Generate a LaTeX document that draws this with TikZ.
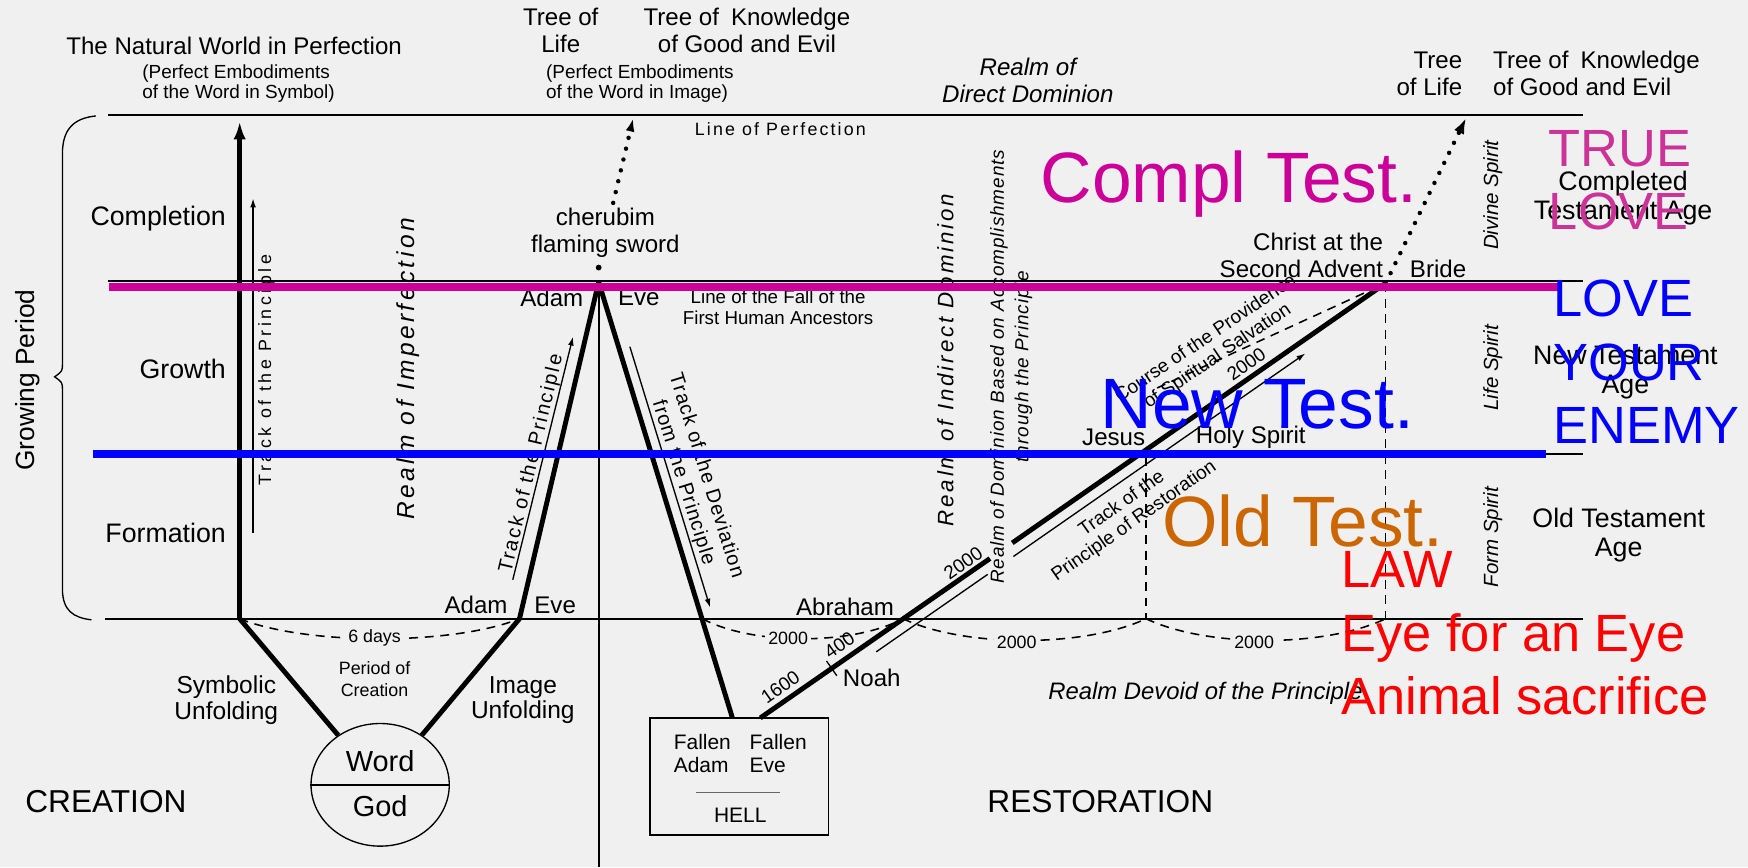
\documentclass[tikz,border=0pt]{standalone}
\usepackage{fontspec}
\setmainfont{Liberation Sans}
\usetikzlibrary{arrows.meta,shapes.geometric,positioning}

\newlength{\du}
\setlength{\du}{0.5pt}
\newcommand{\txtsize}[2]{\fontsize{#1pt}{#2pt}\selectfont}
\newcommand{\spaced}[1]{\addfontfeature{LetterSpace=#1}}

\definecolor{paper}{RGB}{240,240,240}
\definecolor{complcol}{RGB}{204,0,153}
\definecolor{truecol}{RGB}{204,51,153}
\definecolor{oldcol}{RGB}{204,102,0}
\definecolor{newcol}{RGB}{0,0,255}
\definecolor{lawcol}{RGB}{255,0,0}

\tikzset{
  lbl/.style={inner sep=0pt, font=\txtsize{10.8}{12}},
  big/.style={inner sep=0pt, font=\txtsize{12}{13}},
  smalltxt/.style={inner sep=0pt, font=\txtsize{8.5}{9}},
  realm/.style={inner sep=0pt, font=\txtsize{10}{11}\itshape\spaced{13}},
  spirit/.style={inner sep=0pt, rotate=90, font=\txtsize{9.2}{10}\itshape},
  heavy/.style={line width=2.2pt},
  rule/.style={line width=1.1pt},
  fine/.style={line width=0.6pt},
  dotline/.style={line width=2pt, line cap=round, dash pattern=on 0pt off 5pt},
  dashcurve/.style={line width=0.7pt, dash pattern=on 4pt off 3pt},
  yearlbl/.style={smalltxt, font=\txtsize{8}{9}, fill=paper, inner sep=1.5pt},
  note/.style={inner sep=0pt, font=\txtsize{32}{32}},
  remark/.style={inner sep=0pt, font=\txtsize{23.5}{28.5}, align=left},
}

\begin{document}
\begin{tikzpicture}[x=\du,y=-\du]
\fill[paper] (0,0) rectangle (1568,778);
\useasboundingbox (0,0) rectangle (1568,778);

% levels
\coordinate (perfL) at (97,103);
\coordinate (perfR) at (1420,103);
\coordinate (fallL) at (97,252);
\coordinate (fallR) at (1420,252);
\coordinate (midL) at (97,407);
\coordinate (midR) at (1420,407);
\coordinate (baseL) at (94,555);
\coordinate (baseR) at (1420,555);
\draw[rule] (perfL) -- (perfR);
\draw[rule] (fallL) -- (fallR);
\draw[rule] (midL) -- (midR);
\draw[rule] (baseL) -- (baseR);

% growing period brace
\draw[fine] (86,104) .. controls (66,106) and (56,116) .. (56,138) -- (56,326)
  .. controls (56,333) .. (49,338) .. controls (56,343) .. (56,350) -- (56,528)
  .. controls (56,548) and (66,554) .. (82,556);

% creation
\coordinate (symb) at (215,555);
\coordinate (adameve) at (466,555);
\coordinate (apex) at (537,253);
\coordinate (natTop) at (215,109);
\coordinate (trkA) at (227,478);
\coordinate (trkB) at (227,178);
\node[ellipse, draw, fine, minimum width=124\du, minimum height=110\du, inner sep=0pt] (god) at (341,704) {};
\draw[fine] (god.west) -- (god.east);
\draw[heavy] (symb) -- (god);
\draw[heavy] (adameve) -- (god);
\draw[heavy, -{Latex[length=8pt,width=5.5pt]}] (symb) -- (natTop);
\draw[fine, -{Latex[length=4pt,width=2.6pt]}] (trkA) -- (trkB);

% fall
\coordinate (fallpt) at (657,644);
\coordinate (axisEnd) at (537,778);
\coordinate (swordFoot) at (550,182);
\coordinate (swordTip) at (568,106);
\coordinate (upA) at (460,520);
\coordinate (upB) at (514,302);
\coordinate (devA) at (565,311);
\coordinate (devB) at (637,545);
\draw[heavy] (adameve) -- (apex);
\draw[heavy] (apex) -- (fallpt);
\draw[line width=0.9pt] (apex) -- (axisEnd);
\node[circle, fill, inner sep=0pt, minimum size=2.6pt] (swordDot) at (537,240) {};
\draw[dotline, -{Latex[length=6pt,width=4pt]}] (swordFoot) -- (swordTip);
\draw[fine, -{Latex[length=4pt,width=2.6pt]}] (upA) -- (upB);
\draw[fine, -{Latex[length=4pt,width=2.6pt]}] (devA) -- (devB);
\node[draw, fine, minimum width=160\du, minimum height=105\du, inner sep=0pt] (hell) at (663,696.5) {};
\coordinate (sepL) at (624,711);
\coordinate (sepR) at (700,711);
\draw[line width=0.5pt, black!60] (sepL) -- (sepR);

% restoration
\coordinate (restpt) at (682,644);
\coordinate (gapA) at (888,501);
\coordinate (gapB) at (908,487);
\coordinate (christ) at (1243,254);
\coordinate (noahpt) at (746,599.5);
\coordinate (trA) at (786,584.7);
\coordinate (trB) at (886,515.2);
\coordinate (trC) at (909,499.2);
\coordinate (trD) at (1171,317);
\coordinate (provA) at (1038,348);
\coordinate (jesusTop) at (1028,410);
\coordinate (devpt) at (630,555);
\coordinate (abrpt) at (810,555);
\coordinate (jesusFoot) at (1028,555);
\coordinate (christFoot) at (1243,555);
\coordinate (lifeTip) at (1315,106);
\draw[heavy] (restpt) -- (gapA);
\draw[heavy] (gapB) -- (christ);
\draw[fine] (noahpt) ++(-4.6,-6.6) -- ++(9.2,13.2);
\draw[fine] (trA) -- (trB);
\draw[fine, -{Latex[length=4pt,width=2.6pt]}] (trC) -- (trD);
\draw[dashcurve] (provA) -- (christ);
\draw[dashcurve] (jesusTop) -- (jesusFoot);
\draw[dashcurve] (christ) -- (christFoot);
\draw[dotline, -{Latex[length=7pt,width=5pt]}] (christ) -- (lifeTip);

% periods
\draw[dashcurve] (symb) .. controls +(60,24) and +(-60,24) .. (adameve);
\draw[dashcurve] (devpt) .. controls +(45,24) and +(-45,24) .. (abrpt);
\draw[dashcurve] (abrpt) .. controls +(55,26) and +(-55,26) .. (jesusFoot);
\draw[dashcurve] (jesusFoot) .. controls +(55,26) and +(-55,26) .. (christFoot);
\node[yearlbl] (sixdays) at (336,572) {6 days};
\node[yearlbl] (yrA) at (707,573) {2000};
\node[yearlbl] (yrB) at (912,576) {2000};
\node[yearlbl] (yrC) at (1125,576) {2000};

% top texts
\node[lbl] (natural) at (210,41) {The Natural World in Perfection};
\node[smalltxt, align=left] (natEmb) at (214,75) {(Perfect Embodiments\\of the Word in Symbol)};
\node[lbl, align=center] (lifeTree) at (503,27) {Tree of\\Life};
\node[lbl, align=center] (knowTree) at (670,27) {Tree of\enspace Knowledge\\of Good and Evil};
\node[smalltxt, align=left] (imgEmb) at (574,75) {(Perfect Embodiments\\of the Word in Image)};
\node[smalltxt, font=\txtsize{8}{9}\spaced{12}] (perfLine) at (700,116) {Line of Perfection};
\node[lbl, font=\txtsize{10.8}{12}\itshape, align=center] (direct) at (922,72) {Realm of\\Direct Dominion};
\node[lbl, align=right, anchor=east] (lifeTree2) at (1312,66) {Tree\\of Life};
\node[lbl, align=left, anchor=west] (knowTree2) at (1339,66) {Tree of\enspace Knowledge\\of Good and Evil};

% left texts
\node[inner sep=0pt, rotate=90, font=\txtsize{11.8}{13}] (growing) at (25,341) {Growing Period};
\node[big, anchor=east] (completion) at (203,196) {Completion};
\node[big, anchor=east] (growth) at (203,331) {Growth};
\node[big, anchor=east] (formation) at (203,478) {Formation};
\node[inner sep=0pt, rotate=90, font=\txtsize{8}{9}\spaced{20}] (trackNat) at (239,332) {Track of the Principle};
\node[realm, rotate=90, font=\txtsize{11}{12}\itshape\spaced{14}] (imperf) at (366,331) {Realm of Imperfection};
\node[lbl, align=center] (cherub) at (543,209) {cherubim\\flaming sword};
\node[lbl] (adamTop) at (495,267) {Adam};
\node[lbl] (eveTop) at (573,267) {Eve};
\node[inner sep=0pt, align=center, font=\txtsize{8.4}{9.5}] (fallLine) at (698,276) {Line of the Fall of the\\First Human Ancestors};
\node[inner sep=0pt, rotate=76.7, font=\txtsize{9}{10}\spaced{10}] (trackUp) at (477,416) {Track of the Principle};
\node[inner sep=0pt, rotate=-72.7, align=center, font=\txtsize{9}{10.75}\spaced{5}] (trackDev) at (623,430) {Track of the Deviation\\from the Principle};

% bottom texts
\node[lbl] (adamLow) at (427,543) {Adam};
\node[lbl] (eveLow) at (498,543) {Eve};
\node[inner sep=0pt, align=center, font=\txtsize{8}{10}] (creationPeriod) at (336,609) {Period of\\Creation};
\node[lbl, align=center, font=\txtsize{11}{11.5}] (symbolic) at (203,628) {Symbolic\\Unfolding};
\node[lbl, align=center, font=\txtsize{11}{11.5}] (imageU) at (469,628) {Image\\Unfolding};
\node[lbl, font=\txtsize{13}{14}] (wordLbl) at (341,683) {Word};
\node[lbl, font=\txtsize{13}{14}] (godLbl) at (341,723) {God};
\node[inner sep=0pt, font=\txtsize{14.2}{15}] (creation) at (95,719) {CREATION};
\node[inner sep=0pt, font=\txtsize{14.2}{15}] (restoration) at (987,719) {RESTORATION};
\node[inner sep=0pt, anchor=west, align=left, font=\txtsize{9.4}{10}] (fallenAdam) at (604,676) {Fallen\\Adam};
\node[inner sep=0pt, anchor=west, align=left, font=\txtsize{9.4}{10}] (fallenEve) at (672,676) {Fallen\\Eve};
\node[inner sep=0pt, font=\txtsize{9.4}{10}] (hellLbl) at (664,731) {HELL};

% restoration texts
\node[lbl] (abraham) at (758,544) {Abraham};
\node[lbl] (noah) at (782,608) {Noah};
\node[smalltxt, rotate=35] (y1600) at (700,616) {1600};
\node[smalltxt, rotate=35] (y400) at (753,579) {400};
\node[smalltxt, rotate=35] (y2000a) at (864,505) {2000};
\node[smalltxt, rotate=35] (y2000b) at (1118,327) {2000};
\node[realm, rotate=90] (indirect) at (848,323) {Realm of Indirect Dominion};
\node[inner sep=0pt, rotate=90, align=center, font=\txtsize{8.5}{11}\itshape\spaced{5}] (domBased) at (907,329) {Realm of Dominion Based on Accomplishments\\through the Principle};
\node[inner sep=0pt, rotate=35, align=center, font=\txtsize{8.5}{9.5}] (restTrack) at (1012,460) {Track of the\\Principle of Restoration};
\node[inner sep=0pt, rotate=34, align=center, font=\txtsize{8.5}{9.5}] (course) at (1087,312) {Course of the Providence\\of Spiritual Salvation};
\node[lbl] (jesus) at (999,392) {Jesus};
\node[lbl] (holy) at (1122,392) {Holy Spirit};
\node[lbl, align=right, anchor=east] (christLbl) at (1241,229) {Christ at the\\Second Advent};
\node[lbl] (bride) at (1290,241) {Bride};
\node[spirit] (divine) at (1339,175) {Divine Spirit};
\node[spirit] (lifeSp) at (1339,330) {Life Spirit};
\node[spirit] (formSp) at (1339,482) {Form Spirit};
\node[big, align=center] (complAge) at (1456,178) {Completed\\Testament Age};
\node[big, align=center] (newAge) at (1458,334) {New Testament\\Age};
\node[big, align=center] (oldAge) at (1452,480) {Old Testament\\Age};
\node[lbl, anchor=west, font=\txtsize{10.7}{12}\itshape] (devoid) at (940,622) {Realm Devoid of the Principle};

% added marks
\coordinate (complL) at (98,257);
\coordinate (complR) at (1400,257);
\coordinate (newL) at (83,407);
\coordinate (newR) at (1387,407);
\draw[complcol, line width=3.6pt] (complL) -- (complR);
\draw[newcol, line width=3.6pt] (newL) -- (newR);
\node[note, anchor=base west, text=complcol] (complTest) at (933,182) {Compl Test.};
\node[note, anchor=base west, text=newcol] (newTest) at (987,384) {New Test.};
\node[note, anchor=base west, text=oldcol] (oldTest) at (1042,490) {Old Test.};
% base of a multi-line node is its last line
\node[remark, anchor=base west, text=truecol] (trueLove) at (1389,206) {TRUE\\LOVE};
\node[remark, anchor=base west, text=newcol] (loveEnemy) at (1393,398) {LOVE\\YOUR\\ENEMY};
\node[remark, anchor=base west, text=lawcol] (law) at (1203,641) {LAW\\Eye for an Eye\\Animal sacrifice};
\end{tikzpicture}
\end{document}
